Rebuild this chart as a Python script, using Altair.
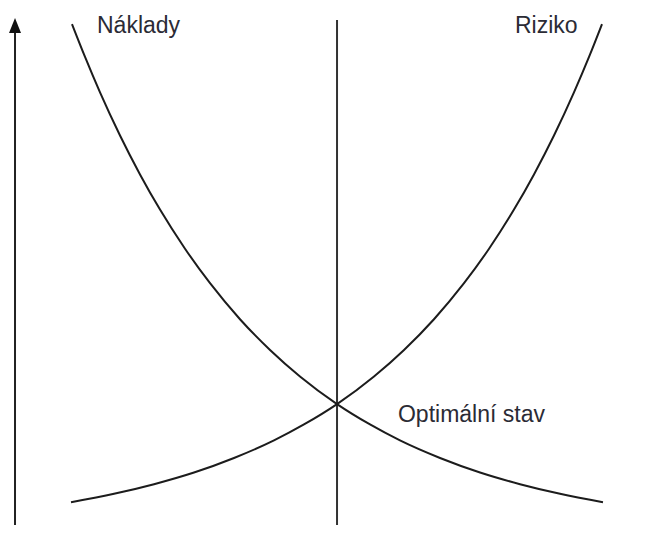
import altair as alt
import pandas as pd

# Curve readings (abstract units, 0-100 on both axes)
naklady_x = [9.95, 11.98, 14.31, 17.42, 20.53, 23.64, 27.53, 31.42, 36.08, 40.75,
             45.41, 51.17, 56.30, 60.96, 67.19, 73.41, 79.63, 85.85, 92.53]
naklady_y = [96.93, 90.67, 83.92, 75.71, 68.30, 61.60, 54.15, 47.58, 40.72, 34.86,
             29.81, 24.55, 20.67, 17.64, 14.29, 11.52, 9.30, 7.47, 5.87]

riziko_x = [9.80, 16.49, 22.71, 28.93, 35.15, 41.37, 46.03, 51.17, 56.92, 61.59,
            66.25, 70.92, 74.81, 78.69, 81.80, 84.91, 88.02, 90.36, 92.38]
riziko_y = [5.87, 7.47, 9.30, 11.52, 14.29, 17.64, 20.67, 24.55, 29.81, 34.86,
            40.72, 47.58, 54.15, 61.60, 68.30, 75.71, 83.92, 90.67, 96.93]

# Optimum (vertical line)
optimum_x = [51.17]
optimum_y0 = [1.52]
optimum_y1 = [97.7]

# Vertical axis with arrow
axis_x = [1.09]
axis_y0 = [1.52]
axis_y1 = [95.5]
arrow_y = [96.67]

# Labels
label_text = ["Náklady", "Riziko", "Optimální stav"]
label_x = [13.84, 78.85, 60.65]
label_y = [95.24, 95.24, 21.14]

curves = pd.DataFrame(
    {"x": naklady_x, "y": naklady_y, "series": ["Náklady"] * len(naklady_x)}
)
curves = pd.concat(
    [curves, pd.DataFrame({"x": riziko_x, "y": riziko_y, "series": ["Riziko"] * len(riziko_x)})],
    ignore_index=True,
)

xs = alt.Scale(domain=[0, 98.755], nice=False, zero=False)
ys = alt.Scale(domain=[1.524, 100], nice=False, zero=False)

line_color = "#1c1c1c"

lines = alt.Chart(curves).mark_line(
    color=line_color, strokeWidth=2, interpolate="monotone"
).encode(
    x=alt.X("x:Q", scale=xs, axis=None),
    y=alt.Y("y:Q", scale=ys, axis=None),
    detail="series:N",
)

opt_df = pd.DataFrame({"x": optimum_x, "y0": optimum_y0, "y1": optimum_y1})
opt = alt.Chart(opt_df).mark_rule(color="#333333", strokeWidth=2).encode(
    x=alt.X("x:Q", scale=xs, axis=None),
    y=alt.Y("y0:Q", scale=ys, axis=None),
    y2="y1:Q",
)

ax_df = pd.DataFrame({"x": axis_x, "y0": axis_y0, "y1": axis_y1, "ya": arrow_y})
ax_line = alt.Chart(ax_df).mark_rule(color="#222222", strokeWidth=2).encode(
    x=alt.X("x:Q", scale=xs, axis=None),
    y=alt.Y("y0:Q", scale=ys, axis=None),
    y2="y1:Q",
)
ax_arrow = alt.Chart(ax_df).mark_point(
    shape="M0,-1L-0.8,1L0.8,1Z", filled=True, color="#111111", size=225, opacity=1
).encode(
    x=alt.X("x:Q", scale=xs, axis=None),
    y=alt.Y("ya:Q", scale=ys, axis=None),
)

lab_df = pd.DataFrame({"t": label_text, "x": label_x, "y": label_y})
labels = alt.Chart(lab_df).mark_text(
    align="left", baseline="alphabetic", font="Liberation Sans", fontSize=23, color="#2b2b35"
).encode(
    x=alt.X("x:Q", scale=xs, axis=None),
    y=alt.Y("y:Q", scale=ys, axis=None),
    text="t:N",
)

chart = alt.layer(opt, ax_line, ax_arrow, lines, labels).properties(
    width=635,
    height=517,
    autosize=alt.AutoSizeParams(type="none"),
    padding=0,
    background="white",
).configure_view(stroke=None)

chart.save("out.html", embed_options={"renderer": "svg", "actions": False})
